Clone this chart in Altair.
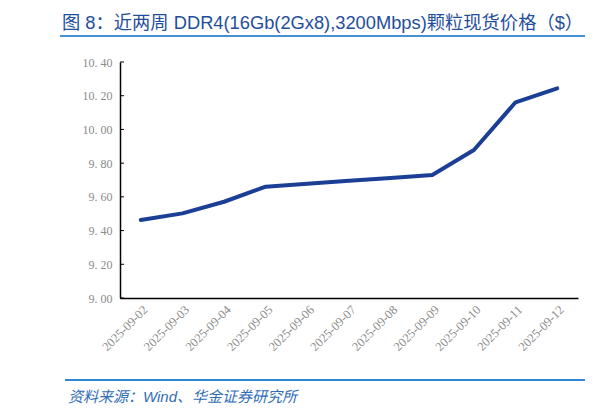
import altair as alt
import pandas as pd

dates = ["2025-09-02", "2025-09-03", "2025-09-04", "2025-09-05", "2025-09-06",
         "2025-09-07", "2025-09-08", "2025-09-09", "2025-09-10", "2025-09-11", "2025-09-12"]
prices = [9.463, 9.502, 9.571, 9.660, 9.678, 9.695, 9.712, 9.730, 9.878, 10.161, 10.244]
y_ticks = [9.0, 9.2, 9.4, 9.6, 9.8, 10.0, 10.2, 10.4]

title_text = "图 8：近两周 DDR4(16Gb(2Gx8),3200Mbps)颗粒现货价格（$）"
source_text = "资料来源：Wind、华金证券研究所"

df = pd.DataFrame({"date": dates, "price": prices})
ticks_df = pd.DataFrame({"v": y_ticks})

label_font = "Liberation Serif"
label_color = "#8a8a8a"

x_enc = alt.X("date:O", sort=dates,
              scale=alt.Scale(type="point", padding=0.5),
              axis=alt.Axis(title=None, labelAngle=-45, labelFont=label_font,
                            labelFontSize=12.5, labelColor=label_color, ticks=False,
                            labelOverlap=False, labelBound=False, labelFlush=False,
                            domainColor="#000000", domainWidth=1.5, labelPadding=5))
y_scale = alt.Scale(domain=[9.0, 10.4], zero=False, nice=False)
y_axis = alt.Axis(title=None, values=y_ticks, grid=False, ticks=False,
                  labelOverlap=False, labelFlush=False, labelBound=False,
                  labelExpr="replace(format(datum.value, '.2f'), '.', '. ')",
                  labelFont=label_font, labelFontSize=12, labelColor=label_color,
                  domainColor="#000000", domainWidth=1.5, labelPadding=8)

line = alt.Chart(df).mark_line(color="#1B3F95", strokeWidth=4, strokeCap="round",
                               strokeJoin="round").encode(
    x=x_enc,
    y=alt.Y("price:Q", scale=y_scale, axis=y_axis)
)

tick_marks = alt.Chart(ticks_df).mark_rule(color="#000000", strokeWidth=1).encode(
    y=alt.Y("v:Q", scale=y_scale, axis=y_axis),
    x=alt.value(0), x2=alt.value(4)
)

title_rule = alt.Chart(ticks_df).mark_rule(color="#4A90D0", strokeWidth=1.5, clip=False).encode(
    x=alt.value(-60), x2=alt.value(465), y=alt.value(-26)
)
source_rule = alt.Chart(ticks_df).mark_rule(color="#2F86D6", strokeWidth=1.5, clip=False).encode(
    x=alt.value(-55), x2=alt.value(465), y=alt.value(318)
)
title_mark = alt.Chart(pd.DataFrame({"t": [title_text]})).mark_text(
    align="left", baseline="middle", font="Liberation Sans, Noto Sans CJK SC", fontSize=18.3,
    color="#1F4E9C", clip=False
).encode(text="t:N", x=alt.value(-58), y=alt.value(-38))
source_mark = alt.Chart(pd.DataFrame({"t": [source_text]})).mark_text(
    align="left", baseline="middle", font="Liberation Sans, Noto Sans CJK SC", fontSize=15,
    fontStyle="italic", color="#2F6DB5", clip=False
).encode(text="t:N", x=alt.value(-52), y=alt.value(335))

chart = alt.layer(line, tick_marks, title_rule, source_rule, title_mark, source_mark).properties(
    width=458, height=236,
    autosize=alt.AutoSizeParams(type="none"),
    padding={"left": 112, "top": 54, "right": 14, "bottom": 110}
).configure_view(stroke=None)

chart.save("out.html", embed_options={"renderer": "svg", "actions": False})
